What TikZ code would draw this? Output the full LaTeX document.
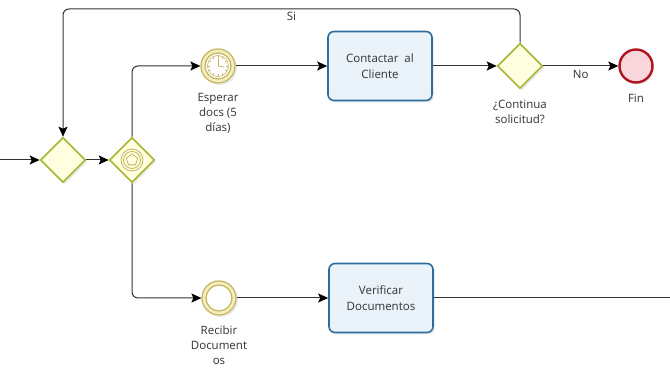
\documentclass[tikz,border=0pt]{standalone}
\usepackage{fontspec}
\setmainfont{Open Sans}
\usetikzlibrary{shapes.geometric,arrows.meta,shadows,calc}
\definecolor{gwborder}{RGB}{166,182,48}
\definecolor{gwfill}{RGB}{255,255,224}
\definecolor{evborder}{RGB}{196,180,96}
\definecolor{evfill}{RGB}{244,238,190}
\definecolor{endborder}{RGB}{176,20,32}
\definecolor{endfill}{RGB}{248,214,220}
\definecolor{taskborder}{RGB}{46,110,158}
\definecolor{taskfill}{RGB}{234,242,250}
\definecolor{txt}{RGB}{50,50,50}
\begin{document}
\begin{tikzpicture}[x=1pt,y=-1pt,
  every node/.style={font=\fontsize{11.5}{15}\selectfont, text=txt},
  shd/.style={drop shadow={shadow xshift=2pt,shadow yshift=-2pt,opacity=0.15,fill=gray}},
  gateway/.style={diamond,draw=gwborder,line width=1.6pt,fill=gwfill,minimum width=45pt,minimum height=45pt,inner sep=0pt,aspect=1,shd},
  event/.style={circle,draw=evborder,line width=1.2pt,fill=evfill,minimum size=34pt,inner sep=0pt,shd},
  endev/.style={circle,draw=endborder,line width=2.4pt,fill=endfill,minimum size=33pt,inner sep=0pt,shd},
  task/.style={rectangle,rounded corners=6pt,draw=taskborder,line width=1.6pt,fill=taskfill,minimum width=104pt,minimum height=69pt,align=center,font=\fontsize{11.5}{16}\selectfont,shd},
  flow/.style={draw=black!80,line width=1pt,-{Stealth[length=10pt,width=9pt,inset=2pt,color=black]},rounded corners=6pt},
  plainflow/.style={draw=black!80,line width=1pt,rounded corners=6pt},
  lbl/.style={align=center,inner sep=0pt}
]
\useasboundingbox (0,0) rectangle (670,371);
\fill[white] (0,0) rectangle (670,371);

% nodes
\node[gateway] (g1) at (63,160) {};
\node[gateway] (g2) at (132,160) {};
\node[event] (timer) at (218,66) {};
\node[task] (contact) at (380,66) {Contactar\ \ al\\Cliente};
\node[gateway] (g3) at (520,66) {};
\node[endev] (fin) at (636,66) {};
\node[event] (recibir) at (219,298) {};
\node[task] (verif) at (381,298) {Verificar\\Documentos};

% event-based gateway marker
\draw[evborder,line width=0.8pt] (g2.center) circle (11pt);
\draw[evborder,line width=0.8pt] (g2.center) circle (8.5pt);
\node[regular polygon,regular polygon sides=5,draw=evborder,line width=0.8pt,minimum size=12pt,inner sep=0pt] (pent) at (g2.center) {};

% intermediate events: inner ring
\draw[evborder,line width=1.2pt,fill=white] (timer.center) circle (13pt);
\draw[evborder,line width=1.2pt,fill=white] (recibir.center) circle (13pt);
% clock
\draw[evborder,line width=0.6pt] (timer.center) circle (10.5pt);
\foreach \a in {0,30,...,330}
  \draw[evborder,line width=0.6pt] ($(timer.center)+(\a:8pt)$) -- ($(timer.center)+(\a:10pt)$);
\draw[evborder,line width=0.8pt] (timer.center) -- ++(0,7pt);
\draw[evborder,line width=0.8pt] (timer.center) -- ++(6pt,-1pt);

% labels
\node[lbl] (lt) at (218,113) {Esperar\\docs (5\\días)};
\node[lbl] (lc) at (520,112) {¿Continua\\solicitud?};
\node[lbl] (lf) at (636,98) {Fin};
\node[lbl] (lr) at (219,345) {Recibir\\Document\\os};

% coordinates
\coordinate (entry) at (0,160);
\coordinate (sitop) at (63,9);
\coordinate (rightend) at (670,298);

% connectors
\draw[flow] (entry) -- (g1.west);
\draw[flow] (g1.east) -- (g2.west);
\draw[flow] (g2.north) |- (timer.west);
\draw[flow] (g2.south) |- (recibir.west);
\draw[flow] (timer.east) -- (contact.west);
\draw[flow] (recibir.east) -- (verif.west);
\draw[flow] (contact.east) -- (g3.west);
\draw[flow] (g3.east) -- node[below=0pt] {No} (fin.west);
\draw[flow] (g3.north) |- node[pos=0.75,below=-1pt] {Si} (sitop) -- (g1.north);
\draw[plainflow] (verif.east) -- (rightend);
\end{tikzpicture}
\end{document}
